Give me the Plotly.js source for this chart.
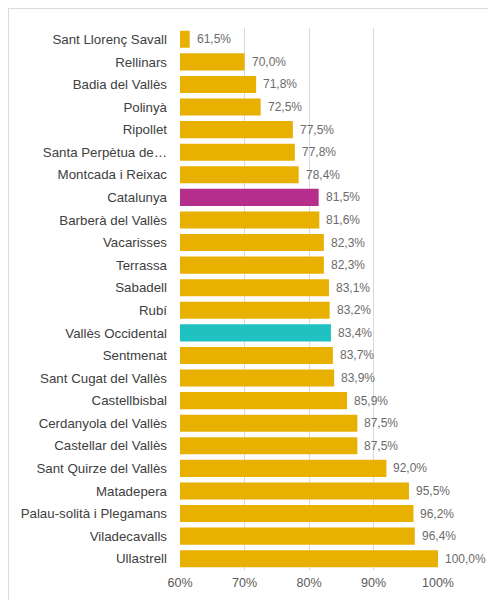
<!DOCTYPE html>
<html>
<head>
<meta charset="utf-8">
<script src="https://cdn.plot.ly/plotly-3.0.1.min.js"></script>
<style>
  html, body { margin: 0; padding: 0; background: #fff; }
  #frame { position: absolute; left: 8px; top: 8px; width: 480px; height: 592px;
           border-top: 1px solid #dcdcdc; border-left: 1px solid #dcdcdc; box-sizing: border-box; }
  #chart { width: 479px; height: 591px; }
</style>
</head>
<body>
<div id="frame"><div id="chart"></div></div>
<script>
const categories = [
  "Sant Llorenç Savall", "Rellinars", "Badia del Vallès", "Polinyà", "Ripollet",
  "Santa Perpètua de…", "Montcada i Reixac", "Catalunya", "Barberà del Vallès",
  "Vacarisses", "Terrassa", "Sabadell", "Rubí", "Vallès Occidental", "Sentmenat",
  "Sant Cugat del Vallès", "Castellbisbal", "Cerdanyola del Vallès", "Castellar del Vallès",
  "Sant Quirze del Vallès", "Matadepera", "Palau-solità i Plegamans", "Viladecavalls", "Ullastrell"
];
const values = [61.5, 70.0, 71.8, 72.5, 77.5, 77.8, 78.4, 81.5, 81.6, 82.3, 82.3, 83.1, 83.2,
  83.4, 83.7, 83.9, 85.9, 87.5, 87.5, 92.0, 95.5, 96.2, 96.4, 100.0];
const tickValues = [60, 70, 80, 90, 100];
const tickLabels = ["60%", "70%", "80%", "90%", "100%"];
const highlight = { "Catalunya": "#B52E8C", "Vallès Occidental": "#1FC1C1" };
const baseColor = "#E8B000";

const colors = categories.map(c => highlight[c] || baseColor);
const fmt = v => v.toFixed(1).replace('.', ',') + '%';

const trace = {
  type: 'bar', orientation: 'h',
  x: values, y: categories,
  marker: { color: colors },
  hoverinfo: 'skip'
};

const annotations = values.map((v, i) => ({
  x: v, y: categories[i], xref: 'x', yref: 'y',
  text: fmt(v), showarrow: false, xanchor: 'left', xshift: 5,
  font: { family: 'Liberation Sans, Arial, sans-serif', size: 12, color: '#6b6b6b' }
}));

const layout = {
  width: 479, height: 591,
  margin: { l: 171, r: 50, t: 19, b: 30, pad: 0 },
  paper_bgcolor: '#ffffff', plot_bgcolor: '#ffffff',
  bargap: 0.24,
  showlegend: false,
  font: { family: 'Liberation Sans, Arial, sans-serif', color: '#595959' },
  xaxis: {
    range: [60, 100], tickvals: tickValues, ticktext: tickLabels,
    showgrid: true, gridcolor: '#d9d9d9', gridwidth: 1,
    zeroline: false, showline: false, ticks: '',
    ticklabelstandoff: 3,
    tickfont: { size: 12.5, color: '#595959' }, fixedrange: true
  },
  yaxis: {
    autorange: 'reversed', type: 'category',
    showgrid: false, zeroline: false, showline: false, ticks: '',
    ticklabelstandoff: 12,
    tickfont: { size: 13.3, color: '#404040' }, fixedrange: true
  },
  annotations: annotations
};

Plotly.newPlot('chart', [trace], layout, { displayModeBar: false, staticPlot: true });
</script>
</body>
</html>
